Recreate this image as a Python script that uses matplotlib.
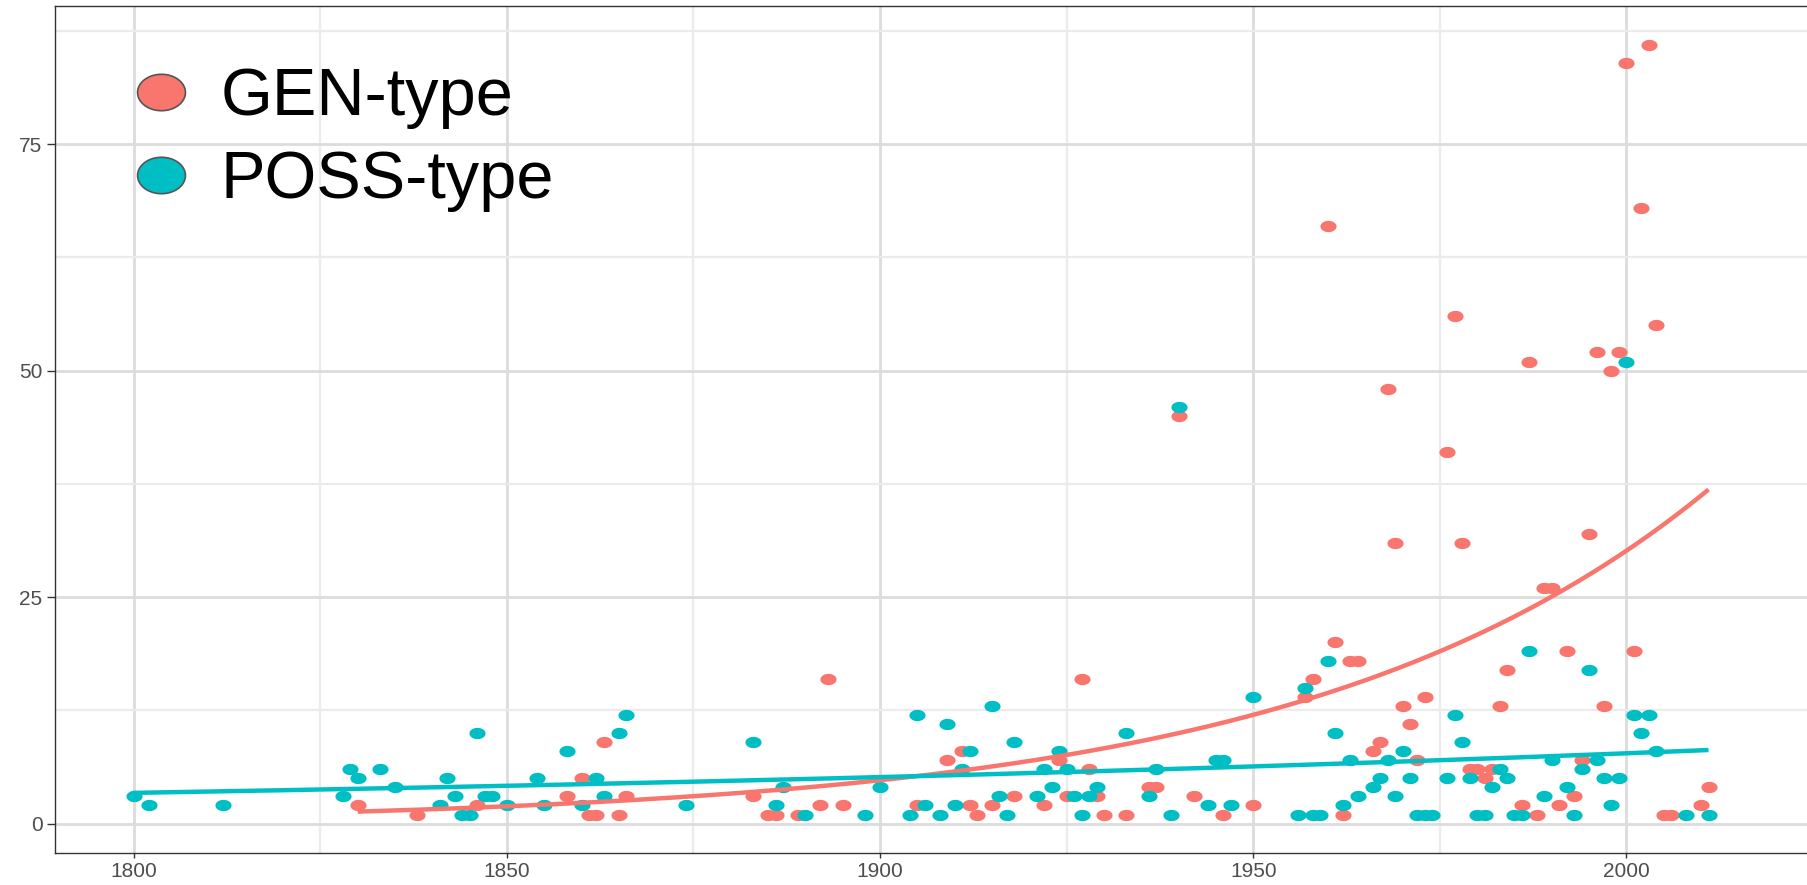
import numpy as np
import matplotlib.pyplot as plt
from matplotlib.path import Path
from matplotlib.lines import Line2D

# GEN-type counts per year
gen_years = [1830, 1838, 1846, 1858, 1860, 1861, 1862, 1863, 1865, 1866, 1883, 1885, 1886, 1889,
             1892, 1893, 1895, 1905, 1909, 1911, 1912, 1913, 1915, 1918, 1922, 1924, 1925, 1927,
             1928, 1929, 1930, 1933, 1936, 1937, 1940, 1942, 1946, 1950, 1957, 1958, 1960, 1961,
             1962, 1963, 1964, 1966, 1967, 1968, 1969, 1970, 1971, 1972, 1973, 1976, 1977, 1978,
             1979, 1980, 1981, 1982, 1983, 1984, 1986, 1987, 1988, 1989, 1990, 1991, 1992, 1993,
             1994, 1995, 1996, 1997, 1998, 1999, 2000, 2001, 2002, 2003, 2004, 2005, 2006, 2010, 2011]
gen_counts = [2, 1, 2, 3, 5, 1, 1, 9, 1, 3, 3, 1, 1, 1,
              2, 16, 2, 2, 7, 8, 2, 1, 2, 3, 2, 7, 3, 16,
              6, 3, 1, 1, 4, 4, 45, 3, 1, 2, 14, 16, 66, 20,
              1, 18, 18, 8, 9, 48, 31, 13, 11, 7, 14, 41, 56, 31,
              6, 6, 5, 6, 13, 17, 2, 51, 1, 26, 26, 2, 19, 3,
              7, 32, 52, 13, 50, 52, 84, 19, 68, 86, 55, 1, 1, 2, 4]

# POSS-type counts per year
poss_years = [1800, 1802, 1812, 1828, 1829, 1830, 1833, 1835, 1841, 1842, 1843, 1844, 1845, 1846,
              1847, 1848, 1850, 1854, 1855, 1858, 1860, 1862, 1863, 1865, 1866, 1874, 1883, 1886,
              1887, 1890, 1898, 1900, 1904, 1905, 1906, 1908, 1909, 1910, 1911, 1912, 1915, 1916,
              1917, 1918, 1921, 1922, 1923, 1924, 1925, 1926, 1927, 1928, 1929, 1933, 1936, 1937,
              1939, 1940, 1944, 1945, 1946, 1947, 1950, 1956, 1957, 1958, 1959, 1960, 1961, 1962,
              1963, 1964, 1966, 1967, 1968, 1969, 1970, 1971, 1972, 1973, 1974, 1976, 1977, 1978,
              1979, 1980, 1981, 1982, 1983, 1984, 1985, 1986, 1987, 1989, 1990, 1992, 1993, 1994,
              1995, 1996, 1997, 1998, 1999, 2000, 2001, 2002, 2003, 2004, 2008, 2011]
poss_counts = [3, 2, 2, 3, 6, 5, 6, 4, 2, 5, 3, 1, 1, 10,
               3, 3, 2, 5, 2, 8, 2, 5, 3, 10, 12, 2, 9, 2,
               4, 1, 1, 4, 1, 12, 2, 1, 11, 2, 6, 8, 13, 3,
               1, 9, 3, 6, 4, 8, 6, 3, 1, 3, 4, 10, 3, 6,
               1, 46, 2, 7, 7, 2, 14, 1, 15, 1, 1, 18, 10, 2,
               7, 3, 4, 5, 7, 3, 8, 5, 1, 1, 1, 5, 12, 9,
               5, 1, 1, 4, 6, 5, 1, 1, 19, 3, 7, 4, 1, 6,
               17, 7, 5, 2, 5, 51, 12, 10, 12, 8, 1, 1]

labels = ['GEN-type', 'POSS-type']
colors = ['#F8766D', '#00BFC4']


def poisson_fit(x, y, n=200):
    # poisson glm (log link) by IRLS, like geom_smooth(method = "glm")
    x = np.asarray(x, float)
    y = np.asarray(y, float)
    X = np.column_stack([np.ones_like(x), x - x.mean()])
    beta = np.array([np.log(y.mean()), 0.0])
    for _ in range(50):
        mu = np.exp(X @ beta)
        z = X @ beta + (y - mu) / mu
        beta = np.linalg.solve(X.T @ (mu[:, None] * X), X.T @ (mu * z))
    xs = np.linspace(x.min(), x.max(), n)
    Xs = np.column_stack([np.ones_like(xs), xs - x.mean()])
    return xs, np.exp(Xs @ beta)


def ellipse_path(ratio):
    t = np.linspace(0, 2 * np.pi, 60)
    return Path(np.column_stack([np.cos(t), ratio * np.sin(t)]), closed=True)


# slightly squashed dots, as in the original
dot = ellipse_path(0.7)
key = ellipse_path(0.76)

fig = plt.figure(figsize=(18.08, 8.85), dpi=100)
plt.rcParams['font.family'] = ['Liberation Sans', 'DejaVu Sans']
ax = fig.add_axes([55 / 1808, 32 / 885, (1813 - 55) / 1808, 847 / 885])

ax.scatter(gen_years, gen_counts, s=135, marker=dot, color=colors[0], linewidths=0, zorder=3)
ax.scatter(poss_years, poss_counts, s=135, marker=dot, color=colors[1], linewidths=0, zorder=3)

for yrs, cnt, c in [(gen_years, gen_counts, colors[0]), (poss_years, poss_counts, colors[1])]:
    xs, ys = poisson_fit(yrs, cnt)
    ax.plot(xs, ys, color=c, lw=3.2, zorder=4, solid_capstyle='butt')

all_x = gen_years + poss_years
all_y = gen_counts + poss_counts
xr = max(all_x) - min(all_x)
yr = max(all_y) - min(all_y)
ax.set_xlim(min(all_x) - 0.05 * xr, max(all_x) + 0.05 * xr)
ax.set_ylim(min(all_y) - 0.05 * yr, max(all_y) + 0.05 * yr)

ax.set_xticks([1800, 1850, 1900, 1950, 2000])
ax.set_xticks([1825, 1875, 1925, 1975, 2025], minor=True)
ax.set_yticks([0, 25, 50, 75])
ax.set_yticks([12.5, 37.5, 62.5, 87.5], minor=True)
ax.grid(True, which='major', color='#DCDCDC', lw=2.0, zorder=0)
ax.grid(True, which='minor', color='#EBEBEB', lw=1.6, zorder=0)
ax.set_axisbelow(True)
ax.tick_params(which='minor', length=0)
ax.tick_params(axis='x', which='major', length=3.5, width=1.0, color='#333333',
               labelsize=15, labelcolor='#4D4D4D', pad=3)
ax.tick_params(axis='y', which='major', length=6, width=1.0, color='#333333',
               labelsize=15, labelcolor='#4D4D4D', pad=3)
for sp in ax.spines.values():
    sp.set_color('#333333')
    sp.set_linewidth(1.0)

handles = [Line2D([], [], ls='none', marker=key, markersize=34.5, markerfacecolor=c,
                  markeredgecolor='#555555', markeredgewidth=1.2) for c in colors]
ax.legend(handles, labels, loc='upper left', bbox_to_anchor=(135 / 1808, 1 - 67 / 885),
          bbox_transform=fig.transFigure, frameon=False, fontsize=48, handlelength=0.78,
          handletextpad=0.5, labelspacing=0.32, borderpad=0, borderaxespad=0)

fig.savefig('out.png', dpi=100)
